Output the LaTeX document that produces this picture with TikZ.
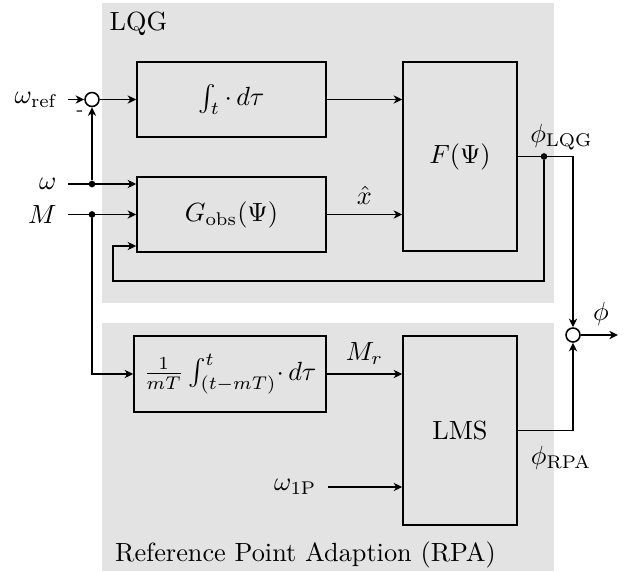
\documentclass[tikz,border=0pt]{standalone}
\usepackage{amsmath}
\usetikzlibrary{arrows.meta,positioning}
\definecolor{BgGray}{HTML}{E3E3E3}
\tikzset{
    % Block style
    blocknode/.style={
        draw=black,
        line width=0.6pt,
        minimum width=2.527cm,
        minimum height=1.003cm,
        align=center,
        inner sep=0pt
    },
    % Tall block style
    bigblock/.style={
        blocknode,
        minimum width=1.524cm,
        minimum height=2.527cm
    },
    % Summing junction
    sumnode/.style={
        circle,
        draw=black,
        fill=white,
        line width=0.6pt,
        minimum size=0.187cm,
        inner sep=0pt
    },
    % Branch dot
    dotnode/.style={
        circle,
        fill=black,
        minimum size=0.09cm,
        inner sep=0pt
    },
    % Signal label
    signal/.style={
        inner sep=4.2pt
    },
    % Arrow style
    myarrow/.style={
        -{Stealth[length=1.15mm,width=1.1mm,inset=0.35mm]},
        line width=0.6pt,
        draw=black
    }
}

\begin{document}
\begin{tikzpicture}[x=0.1337cm, y=-0.1337cm]
    \useasboundingbox (0,0) rectangle (63.2,57.2);

    % Background areas
    \fill[BgGray] (10.2,0.3) rectangle (55.4,30.3);
    \fill[BgGray] (10.2,32.3) rectangle (55.4,57.1);
    \node (lqglbl) at (13.85,2.4) {LQG};
    \node (rpalbl) at (30.55,55.5) {Reference Point Adaption (RPA)};

    % Blocks
    \node[blocknode] (int) at (23.15,9.95) {$\int_t \cdot\, d\tau$};
    \node[blocknode] (obs) at (23.15,21.45) {$G_\text{obs}(\Psi)$};
    \node[bigblock] (F) at (46,15.65) {$F(\Psi)$};
    \node[blocknode, minimum width=2.567cm, minimum height=1.016cm] (mean) at (23,37.4) {$\frac{1}{mT}\int_{(t-mT)}^{t}\!\cdot\, d\tau$};
    \node[bigblock] (lms) at (46,43.05) {LMS};

    % Summing junctions and dots
    \node[sumnode] (s1) at (9.2,9.95) {};
    \node[sumnode] (s2) at (57.3,33.5) {};
    \node[dotnode] (dw) at (9.2,18.4) {};
    \node[dotnode] (dM) at (9.2,21.45) {};
    \node[dotnode] (dphi) at (54.4,15.65) {};

    % Inputs
    \node[signal, anchor=east] (wref) at (6.8,9.95) {$\omega_\text{ref}$};
    \node[signal, anchor=east] (w) at (6.8,18.4) {$\omega$};
    \node[signal, anchor=east] (M) at (6.8,21.45) {$M$};
    \node[signal, anchor=east] (w1p) at (32.8,48.7) {$\omega_\text{1P}$};
    \node[font=\scriptsize] (minus) at (8.0,11.3) {-};

    % Output labels
    \node (philqg) at (56.15,13.7) {$\phi_\text{LQG}$};
    \node (phirpa) at (56.1,45.8) {$\phi_\text{RPA}$};
    \coordinate (out) at (61.8,33.5);
    \node (phi) at (60.1,31.4) {$\phi$};

    % LQG connections
    \draw[myarrow] (wref) -- (s1);
    \draw[myarrow] (s1) -- (int);
    \draw[myarrow] (int) -- (int -| F.west);
    \draw[myarrow] (w) -- (w -| obs.west);
    \draw[myarrow] (dw) -- (s1);
    \draw[myarrow] (M) -- (M -| obs.west);
    \draw[myarrow] (obs) -- node[above] {$\hat{x}$} (obs -| F.west);
    \draw[myarrow] (F) -| (s2);
    \coordinate (fbcorner) at (11.3,28.1);
    \coordinate (fbin) at (11.3,24.6);
    \draw[myarrow] (dphi) |- (fbcorner) -- (fbin) -- (fbin -| obs.west);

    % RPA connections
    \draw[myarrow] (dM) |- (mean);
    \draw[myarrow] (mean) -- node[above] {$M_r$} (mean -| lms.west);
    \draw[myarrow] (w1p) -- (w1p -| lms.west);
    \draw[myarrow] (lms) -| (s2);
    \draw[myarrow] (s2) -- (out);
\end{tikzpicture}
\end{document}
